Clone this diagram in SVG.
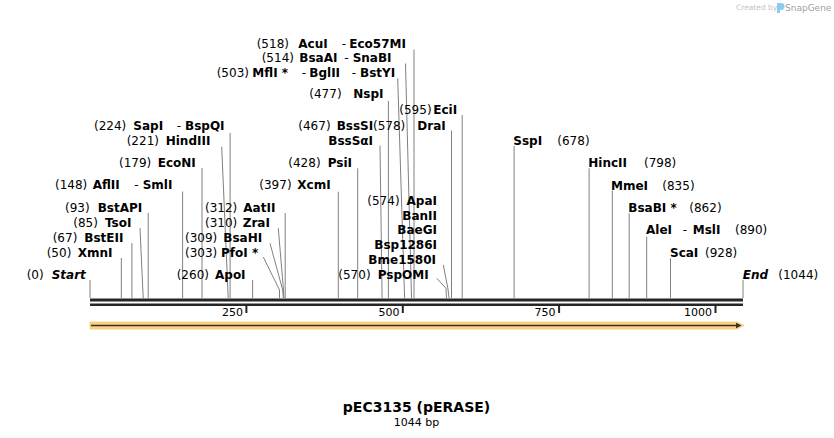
<svg xmlns="http://www.w3.org/2000/svg" width="834" height="438" viewBox="0 0 834 438">
<style>
text{font-family:"DejaVu Sans",Verdana,sans-serif;font-size:12px;fill:#000}
.n{font-weight:normal}
.b{font-weight:bold}
.bi{font-weight:bold;font-style:italic}
.e{text-anchor:end}
.tk{font-size:11px}
.cut{fill:none;stroke:#808080;stroke-width:1}
.bb{fill:#262626}
.tick{stroke:#262626;stroke-width:2}
</style>
<rect width="834" height="438" fill="#fff"/>
<g id="watermark">
<text x="736" y="10" style="font-size:7.5px;fill:#c4c4c4">Created by</text>
<path d="M777,3 h4 a3,3 0 0 1 0,7 h-1 v3 h-3 z" fill="#8ecbf0"/>
<text x="785" y="11" style="font-size:9px;fill:#a0a0a0">SnapGene</text>
</g>
<g id="connectors">
<polyline class="cut" points="414,49.5 414,298"/>
<polyline class="cut" points="405.5,63.5 411.5,298"/>
<polyline class="cut" points="397.7,78.5 404.6,298"/>
<polyline class="cut" points="388.4,101 388.4,298"/>
<polyline class="cut" points="462.2,115 462.2,298"/>
<polyline class="cut" points="451.5,130.5 451.5,298"/>
<polyline class="cut" points="380,145.5 382.1,298"/>
<polyline class="cut" points="230.1,133 230.1,298"/>
<polyline class="cut" points="221.7,146.7 228.2,298"/>
<polyline class="cut" points="202,168 202,298"/>
<polyline class="cut" points="182.6,191.5 182.6,298"/>
<polyline class="cut" points="148.2,213 148.2,298"/>
<polyline class="cut" points="140,228 143.2,298"/>
<polyline class="cut" points="131.9,243 131.9,298"/>
<polyline class="cut" points="121.3,258 121.3,298"/>
<polyline class="cut" points="90,280 90,298"/>
<polyline class="cut" points="285.2,213 285.2,298"/>
<polyline class="cut" points="278.3,228.3 283.3,288 283.9,298"/>
<polyline class="cut" points="270,243.3 282.7,290 283.3,298"/>
<polyline class="cut" points="263.3,257 279.5,290 279.5,298"/>
<polyline class="cut" points="252.6,280 252.6,298"/>
<polyline class="cut" points="338.3,191.7 338.3,298"/>
<polyline class="cut" points="357.7,168.3 357.7,298"/>
<polyline class="cut" points="443.3,265 448,289 449,298"/>
<polyline class="cut" points="436.7,278.3 446,288.3 446.5,298"/>
<polyline class="cut" points="514.1,146 514.1,298"/>
<polyline class="cut" points="589.1,168.3 589.1,298"/>
<polyline class="cut" points="612.3,190.7 612.3,298"/>
<polyline class="cut" points="629.2,213.3 629.2,298"/>
<polyline class="cut" points="646.7,236.7 646.7,298"/>
<polyline class="cut" points="670.5,258.3 670.5,298"/>
<polyline class="cut" points="743,280 743,298"/>
</g>
<g id="backbone">
<rect class="bb" x="90" y="298.5" width="653" height="3"/>
<rect class="bb" x="90" y="303.5" width="653" height="2.5"/>
<line class="tick" x1="246.4" y1="306" x2="246.4" y2="313"/>
<line class="tick" x1="402.8" y1="306" x2="402.8" y2="313"/>
<line class="tick" x1="559.1" y1="306" x2="559.1" y2="313"/>
<line class="tick" x1="715.5" y1="306" x2="715.5" y2="313"/>
<text class="tk e" x="243" y="316">250</text>
<text class="tk e" x="399.5" y="316">500</text>
<text class="tk e" x="555.5" y="316">750</text>
<text class="tk e" x="712" y="316">1000</text>
</g>
<g id="feature-arrow">
<path d="M90,322 H737 L744,325.5 L737,329 H90 Z" fill="#fbd28a" stroke="#f6c66e" stroke-width="0.8"/>
<line x1="91" y1="325.5" x2="738" y2="325.5" stroke="#3a2e1c" stroke-width="1.6"/>
<path d="M736,322.8 L741.5,325.5 L736,328.2 Z" fill="#3a2e1c"/>
</g>
<g id="AcuI"><text class="n" x="256.7" y="47.8">(518)</text><text class="b" x="298.3" y="47.8">AcuI</text><text class="n" x="341.7" y="47.8">-</text><text class="b" x="349.3" y="47.8">Eco57MI</text></g>
<g id="BsaAI"><text class="n" x="261.7" y="62.2">(514)</text><text class="b" x="299.3" y="62.2">BsaAI</text><text class="n" x="344.3" y="62.2">-</text><text class="b" x="352.7" y="62.2">SnaBI</text></g>
<g id="MflI"><text class="n" x="216.7" y="77.2">(503)</text><text class="b" x="252.3" y="77.2">MflI *</text><text class="n" x="301.7" y="77.2">-</text><text class="b" x="309.3" y="77.2">BglII</text><text class="n" x="351.7" y="77.2">-</text><text class="b" x="360" y="77.2">BstYI</text></g>
<g id="NspI"><text class="n" x="309.3" y="97.8">(477)</text><text class="b" x="353.3" y="97.8">NspI</text></g>
<g id="EciI"><text class="n" x="399.3" y="113.8">(595)</text><text class="b" x="433.3" y="113.8">EciI</text></g>
<g id="BssSI"><text class="n" x="298.3" y="129.5">(467)</text><text class="b" x="336.7" y="129.5">BssSI</text><text class="b" x="328.3" y="144.5">BssSαI</text></g>
<g id="DraI"><text class="n" x="373" y="129.5">(578)</text><text class="b" x="417.3" y="129.5">DraI</text></g>
<g id="SapI"><text class="n" x="94" y="129.5">(224)</text><text class="b" x="133.3" y="129.5">SapI</text><text class="n" x="176.7" y="129.5">-</text><text class="b" x="185" y="129.5">BspQI</text></g>
<g id="HindIII"><text class="n" x="126.7" y="144.5">(221)</text><text class="b" x="165.7" y="144.5">HindIII</text></g>
<g id="EcoNI"><text class="n" x="119" y="166.5">(179)</text><text class="b" x="157.7" y="166.5">EcoNI</text></g>
<g id="AflII"><text class="n" x="55" y="189">(148)</text><text class="b" x="92.7" y="189">AflII</text><text class="n" x="134.3" y="189">-</text><text class="b" x="142.7" y="189">SmlI</text></g>
<g id="BstAPI"><text class="n" x="65" y="211.5">(93)</text><text class="b" x="97.7" y="211.5">BstAPI</text></g>
<g id="TsoI"><text class="n" x="73.3" y="226.5">(85)</text><text class="b" x="105" y="226.5">TsoI</text></g>
<g id="BstEII"><text class="n" x="52.7" y="241.5">(67)</text><text class="b" x="84.3" y="241.5">BstEII</text></g>
<g id="XmnI"><text class="n" x="46.7" y="256.5">(50)</text><text class="b" x="77.7" y="256.5">XmnI</text></g>
<g id="Start"><text class="n" x="26.7" y="278.5">(0)</text><text class="bi" x="51.7" y="278.5">Start</text></g>
<g id="AatII"><text class="n" x="205" y="211.5">(312)</text><text class="b" x="243.3" y="211.5">AatII</text></g>
<g id="ZraI"><text class="n" x="205" y="226.5">(310)</text><text class="b" x="242.7" y="226.5">ZraI</text></g>
<g id="BsaHI"><text class="n" x="185" y="241.5">(309)</text><text class="b" x="223.3" y="241.5">BsaHI</text></g>
<g id="PfoI"><text class="n" x="185" y="256.5">(303)</text><text class="b" x="221" y="256.5">PfoI *</text></g>
<g id="ApoI"><text class="n" x="176.7" y="278.5">(260)</text><text class="b" x="215" y="278.5">ApoI</text></g>
<g id="XcmI"><text class="n" x="259.3" y="188.5">(397)</text><text class="b" x="297.3" y="188.5">XcmI</text></g>
<g id="PsiI"><text class="n" x="288.3" y="166.5">(428)</text><text class="b" x="327.7" y="166.5">PsiI</text></g>
<g id="ApaI"><text class="n" x="367.3" y="204.5">(574)</text><text class="b e" x="437" y="204.5">ApaI</text><text class="b e" x="437" y="219.5">BanII</text><text class="b e" x="437" y="234.3">BaeGI</text><text class="b e" x="437" y="249">Bsp1286I</text><text class="b e" x="436" y="264">Bme1580I</text></g>
<g id="PspOMI"><text class="n" x="338.3" y="279">(570)</text><text class="b" x="377.7" y="279">PspOMI</text></g>
<g id="SspI"><text class="b" x="513.3" y="144.5">SspI</text><text class="n" x="557.3" y="144.5">(678)</text></g>
<g id="HincII"><text class="b" x="588.3" y="167">HincII</text><text class="n" x="644" y="167">(798)</text></g>
<g id="MmeI"><text class="b" x="611" y="189.5">MmeI</text><text class="n" x="662.3" y="189.5">(835)</text></g>
<g id="BsaBI"><text class="b" x="628.3" y="212">BsaBI *</text><text class="n" x="689.3" y="212">(862)</text></g>
<g id="AleI"><text class="b" x="646" y="234">AleI</text><text class="n" x="682.7" y="234">-</text><text class="b" x="692.7" y="234">MslI</text><text class="n" x="735" y="234">(890)</text></g>
<g id="ScaI"><text class="b" x="670" y="256.5">ScaI</text><text class="n" x="705" y="256.5">(928)</text></g>
<g id="End"><text class="bi" x="742.7" y="278.5">End</text><text class="n" x="778.3" y="278.5">(1044)</text></g>
<g id="title">
<text class="b" x="416.5" y="412" style="font-size:14px;text-anchor:middle">pEC3135 (pERASE)</text>
<text class="n" x="416.5" y="425.5" style="font-size:11px;text-anchor:middle">1044 bp</text>
</g>
</svg>
